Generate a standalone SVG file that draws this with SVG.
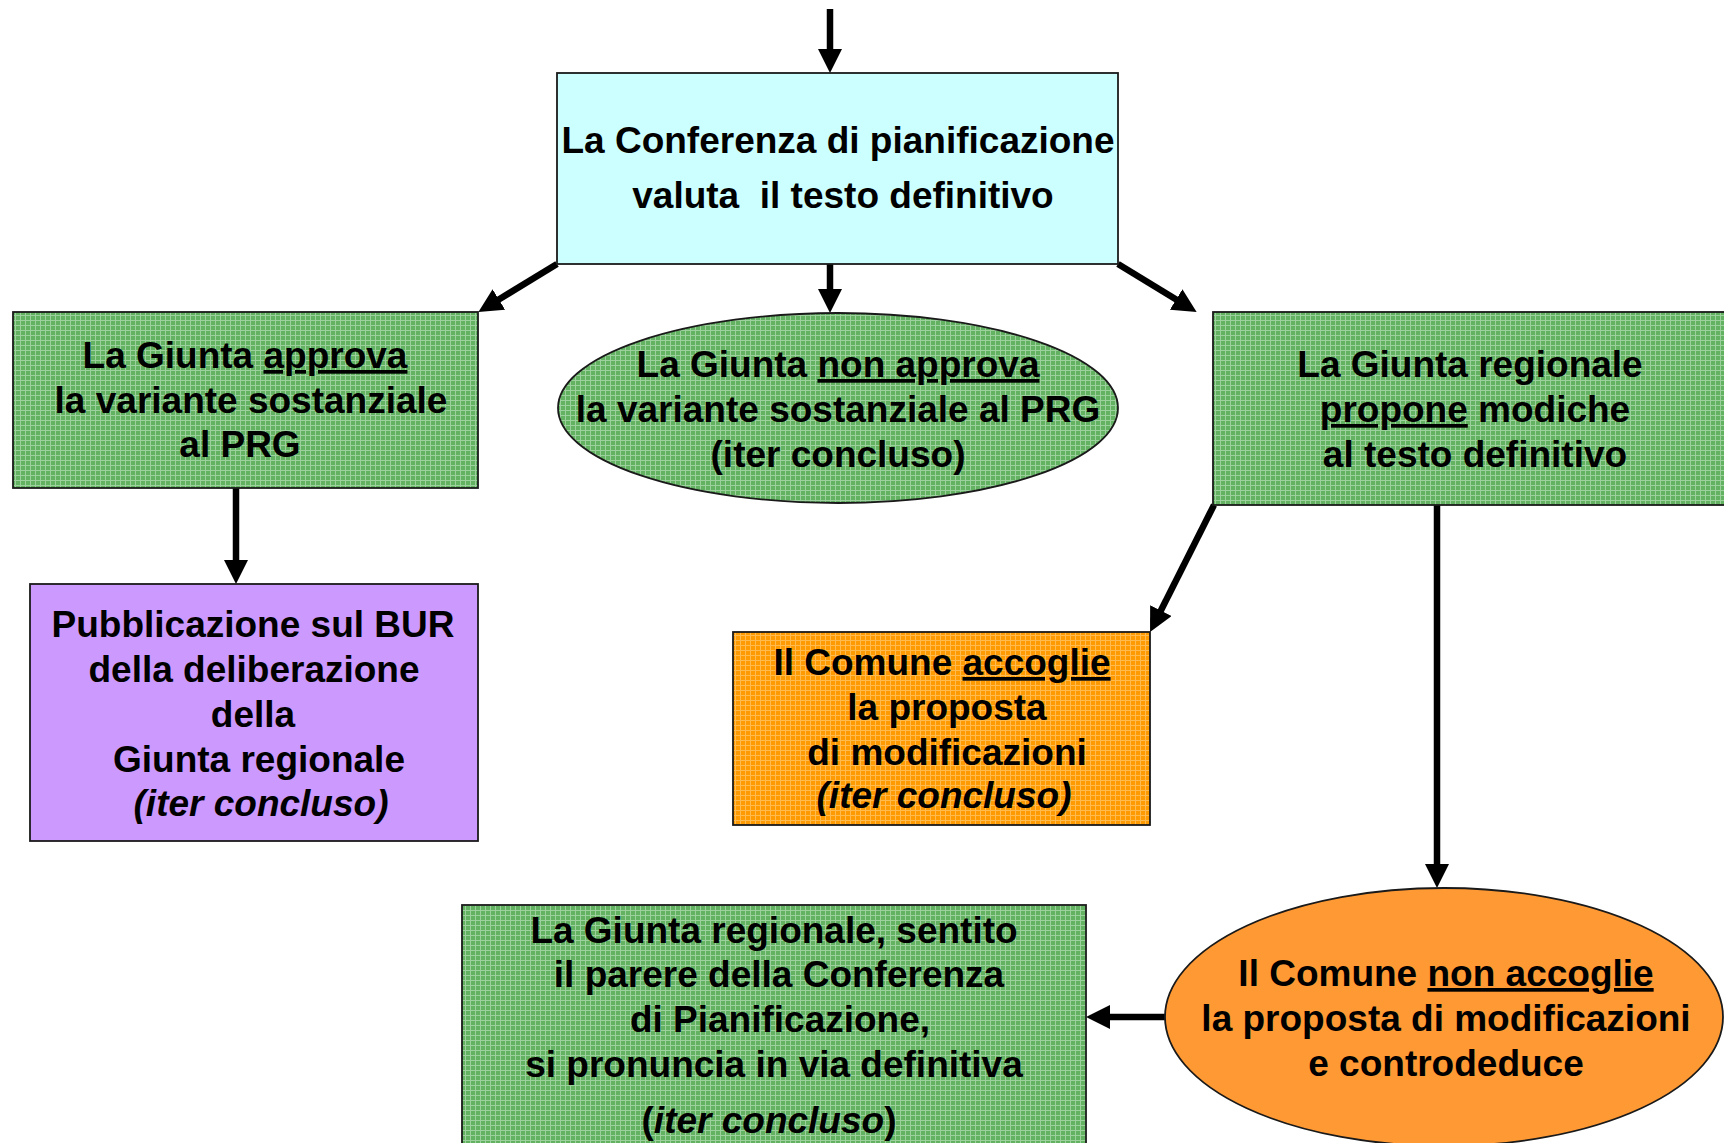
<svg xmlns="http://www.w3.org/2000/svg" width="1724" height="1143" viewBox="0 0 1724 1143">
<style>
  .box { stroke: #1a1a1a; stroke-width: 1.8; }
  .t { font-family: "Liberation Sans", Arial, sans-serif; font-weight: bold; font-size: 37px; fill: #000; text-anchor: middle; }
  .u { text-decoration: underline; }
  .i { font-style: italic; }
  .conn { stroke: #000; stroke-width: 6.5; fill: none; marker-end: url(#arrow); }
</style>
<defs>
  <marker id="arrow" markerUnits="userSpaceOnUse" markerWidth="24" markerHeight="24" viewBox="0 0 24 24" refX="1" refY="12" orient="auto">
    <path d="M0,0 L24,12 L0,24 z" fill="#000"/>
  </marker>
  <pattern id="green" patternUnits="userSpaceOnUse" width="5" height="5">
    <rect width="5" height="5" fill="#62B262"/>
    <rect width="5" height="1" fill="#9CD09C"/>
    <rect width="1" height="5" fill="#9CD09C"/>
  </pattern>
  <pattern id="orange" patternUnits="userSpaceOnUse" width="5" height="5">
    <rect width="5" height="5" fill="#FF9A00"/>
    <rect width="5" height="1" fill="#FFBA50"/>
    <rect width="1" height="5" fill="#FFBA50"/>
  </pattern>
</defs>
<rect width="1724" height="1143" fill="#fff"/>

<g id="connectors">
  <path class="conn" d="M830,9 L830,50"/>
  <path class="conn" d="M557,264 L498,300"/>
  <path class="conn" d="M830,264 L830,290"/>
  <path class="conn" d="M1118,264 L1177,300"/>
  <path class="conn" d="M236,488 L236,561"/>
  <path class="conn" d="M1214,505 L1160.4,611.5"/>
  <path class="conn" d="M1437,505 L1437,865"/>
  <path class="conn" d="M1165,1017 L1109,1017"/>
</g>

<g id="conferenza">
  <rect class="box" x="557" y="73" width="561" height="191" fill="#CCFFFF"/>
  <text class="t" x="838" y="153">La Conferenza di pianificazione</text>
  <text class="t" x="843" y="208" xml:space="preserve">valuta  il testo definitivo</text>
</g>

<g id="giunta-approva">
  <rect class="box" x="13" y="312" width="465" height="176" fill="url(#green)"/>
  <text class="t" x="245" y="368">La Giunta <tspan class="u">approva</tspan></text>
  <text class="t" x="251" y="413">la variante sostanziale</text>
  <text class="t" x="240" y="457">al PRG</text>
</g>

<g id="giunta-non-approva">
  <ellipse class="box" cx="838" cy="408" rx="280" ry="95" fill="url(#green)"/>
  <text class="t" x="838" y="377">La Giunta <tspan class="u">non approva</tspan></text>
  <text class="t" x="838" y="422">la variante sostanziale al PRG</text>
  <text class="t" x="838" y="467">(iter concluso)</text>
</g>

<g id="giunta-propone">
  <rect class="box" x="1213" y="312" width="520" height="193" fill="url(#green)"/>
  <text class="t" x="1470" y="377">La Giunta regionale</text>
  <text class="t" x="1475" y="422"><tspan class="u">propone</tspan> modiche</text>
  <text class="t" x="1475" y="467">al testo definitivo</text>
</g>

<g id="pubblicazione">
  <rect class="box" x="30" y="584" width="448" height="257" fill="#CC99FF"/>
  <text class="t" x="253" y="637">Pubblicazione sul BUR</text>
  <text class="t" x="254" y="682">della deliberazione</text>
  <text class="t" x="253" y="727">della</text>
  <text class="t" x="259" y="772">Giunta regionale</text>
  <text class="t i" x="261" y="816">(iter concluso)</text>
</g>

<g id="comune-accoglie">
  <rect class="box" x="733" y="632" width="417" height="193" fill="url(#orange)"/>
  <text class="t" x="942" y="675">Il Comune <tspan class="u">accoglie</tspan></text>
  <text class="t" x="947" y="720">la proposta</text>
  <text class="t" x="947" y="765">di modificazioni</text>
  <text class="t i" x="944" y="808">(iter concluso)</text>
</g>

<g id="comune-non-accoglie">
  <ellipse class="box" cx="1444" cy="1017" rx="279" ry="129" fill="#FF9933"/>
  <text class="t" x="1446" y="986">Il Comune <tspan class="u">non accoglie</tspan></text>
  <text class="t" x="1446" y="1031">la proposta di modificazioni</text>
  <text class="t" x="1446" y="1076">e controdeduce</text>
</g>

<g id="giunta-definitiva">
  <rect class="box" x="462" y="905" width="624" height="250" fill="url(#green)"/>
  <text class="t" x="774" y="943">La Giunta regionale, sentito</text>
  <text class="t" x="779" y="987">il parere della Conferenza</text>
  <text class="t" x="780" y="1032">di Pianificazione,</text>
  <text class="t" x="774" y="1077">si pronuncia in via definitiva</text>
  <text class="t" x="769" y="1133">(<tspan class="i">iter concluso</tspan>)</text>
</g>
</svg>
